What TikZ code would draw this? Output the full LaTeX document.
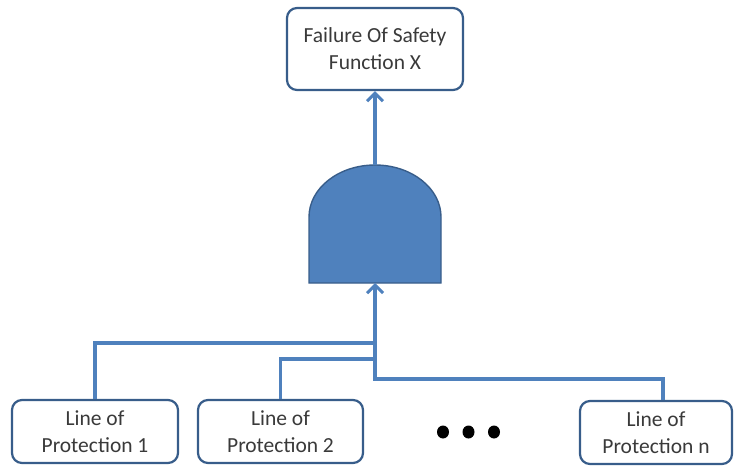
\documentclass[tikz,border=0pt]{standalone}
\usepackage{fontspec}
\setmainfont{Carlito}
\usetikzlibrary{arrows.meta,shapes.geometric}
\definecolor{lineblue}{HTML}{4F81BD}
\definecolor{edgeblue}{HTML}{385D8A}
\definecolor{txt}{HTML}{3A3A3A}
\begin{document}
\begin{tikzpicture}[x=1pt,y=-1pt,
  box/.style={draw=edgeblue,line width=2.2pt,rounded corners=10pt,fill=white,
    text=txt,align=center,font=\fontsize{21.5}{27}\selectfont,inner sep=0pt},
  wire/.style={draw=lineblue,line width=3.6pt},
  arr/.style={wire,-{Straight Barb[length=8pt,width=16pt,line width=3pt]}},
  dotmark/.style={ellipse,fill=black,inner sep=0pt,minimum width=12pt,minimum height=13pt}]
\useasboundingbox (0,0) rectangle (735,466);
\node[box,minimum width=176pt,minimum height=82pt] (top) at (375,49) {Failure Of Safety\\Function X};
\node[box,minimum width=166pt,minimum height=63pt] (p1) at (95,431.5) {Line of\\Protection 1};
\node[box,minimum width=165pt,minimum height=63pt] (p2) at (280.5,431.5) {Line of\\Protection 2};
\node[box,minimum width=152pt,minimum height=63pt] (pn) at (656,432.5) {Line of\\Protection n};
% AND gate
\coordinate (gtop) at (375,165);
\coordinate (gbot) at (375,283);
\draw[fill=lineblue,draw=edgeblue,line width=1.4pt]
  (309,283) -- (309,217) arc[start angle=180,end angle=0,x radius=66,y radius=-52] -- (441,283) -- cycle;
\draw[arr] (gtop) -- (top.south);
% inputs
\draw[wire] (p1.north) -- (95,343) -- (375,343);
\draw[wire] (p2.north) -- (280.5,359) -- (375,359);
\draw[wire] (pn.north -| 663,0) -- (663,379) -- (375,379);
\draw[arr] (375,380.8) -- (gbot);
% dots
\node[dotmark] (d1) at (443,432) {};
\node[dotmark] (d2) at (468.5,432) {};
\node[dotmark] (d3) at (494,432) {};
\end{tikzpicture}
\end{document}
